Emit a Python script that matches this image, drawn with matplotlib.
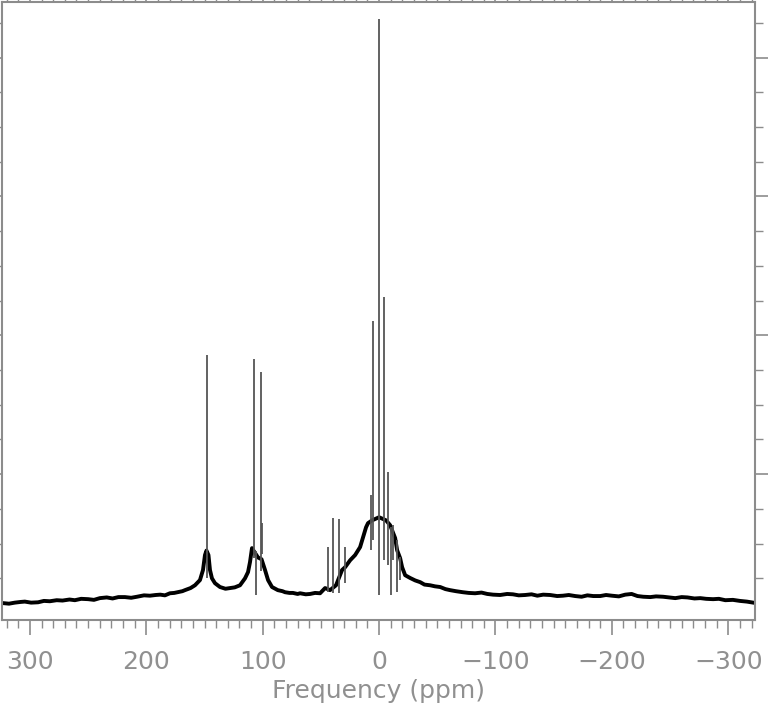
import numpy as np
import matplotlib
matplotlib.use("Agg")
import matplotlib.pyplot as plt
from matplotlib.ticker import MultipleLocator, FixedLocator

# broad part of the spectrum (baseline + wide humps)
base_ppm = [324.2, 318.0, 313.0, 308.0, 304.4, 299.0, 293.0, 288.0, 282.9, 277.0,
            272.0, 266.0, 261.4, 256.0, 250.0, 245.0, 239.9, 234.0, 229.0, 224.0,
            218.4, 213.0, 208.0, 202.0, 196.9, 192.0, 188.0, 184.0, 179.7, 176.0,
            172.0, 169.0, 166.8, 162.0, 158.2, 153.9,
            151.3, 149.6, 148.3, 146.6, 145.3, 143.6, 141.0, 136.7, 132.0, 128.1,
            124.0, 119.5, 115.2, 112.6, 110.9, 109.2, 107.0, 104.0, 101.0, 98.0,
            95.4, 92.0, 87.0, 83.0, 80.8, 77.0, 74.0, 70.0, 67.9, 63.0, 59.3, 55.0, 50.7, 46.4, 42.1,
            37.0, 31.8, 29.2, 24.9, 20.6, 16.3, 13.8, 11.2, 9.5, 6.0,
            0.0, -6.0, -9.5, -13.8, -15.5, -18.1, -19.8, -22.4, -26.7, -31.0,
            -35.3, -39.0, -43.9, -48.0, -52.5, -57.0, -61.0, -66.0, -72.0, -77.0, -82.5, -88.0,
            -93.0, -98.0, -104.0, -110.0, -115.0, -120.0, -125.5, -131.0,
            -136.0, -141.0, -147.0, -153.0, -158.0, -163.0, -168.5, -174.0, -179.0, -184.0,
            -190.0, -195.0, -200.0, -206.0, -211.5, -217.0, -222.0, -227.0, -233.0, -238.0,
            -244.0, -249.0, -254.5, -260.0, -265.0, -271.0, -276.0, -281.0, -287.0, -292.0,
            -297.5, -304.0, -310.0, -316.0, -323.3]
base_int = [0.29, 0.27, 0.30, 0.32, 0.33, 0.30, 0.31, 0.35, 0.34, 0.37,
            0.36, 0.39, 0.37, 0.41, 0.40, 0.38, 0.43, 0.45, 0.42, 0.46,
            0.46, 0.44, 0.47, 0.51, 0.50, 0.52, 0.53, 0.51, 0.57, 0.58,
            0.61, 0.63, 0.66, 0.72, 0.80, 0.95,
            1.24, 1.67, 1.80, 1.67, 1.24, 1.00, 0.86, 0.75, 0.70, 0.72,
            0.74, 0.80, 1.00, 1.18, 1.47, 1.87, 1.75, 1.60, 1.55, 1.24,
            0.95, 0.75, 0.66, 0.63, 0.60, 0.58, 0.58, 0.55, 0.57, 0.54, 0.55, 0.58, 0.57, 0.72, 0.66,
            0.80, 1.24, 1.32, 1.52, 1.67, 1.90, 2.18, 2.47, 2.59, 2.67,
            2.76, 2.67, 2.53, 2.16, 1.81, 1.58, 1.32, 1.09, 1.01, 0.94,
            0.89, 0.82, 0.80, 0.77, 0.75, 0.69, 0.66, 0.63, 0.60, 0.58, 0.57, 0.59,
            0.55, 0.53, 0.52, 0.55, 0.54, 0.51, 0.52, 0.54,
            0.50, 0.53, 0.52, 0.49, 0.50, 0.52, 0.49, 0.47, 0.51, 0.49,
            0.49, 0.52, 0.50, 0.48, 0.53, 0.55, 0.49, 0.47, 0.46, 0.48,
            0.47, 0.45, 0.43, 0.46, 0.45, 0.42, 0.43, 0.41, 0.40, 0.41,
            0.37, 0.38, 0.35, 0.33, 0.29]

# sharp lines: position, top of spike, lowest point of the stroke
peak_ppm = [148.2, 107.5, 105.8, 101.7, 100.6,
            44.1, 39.3, 34.1, 29.2, 7.1, 4.9, 0.3, -4.0, -7.5, -10.1, -12.0, -15.2, -18.1]
peak_top = [7.44, 7.33, 1.80, 6.95, 2.60,
            1.90, 2.74, 2.70, 1.90, 3.39, 8.42, 17.10, 9.11, 4.05, 2.47, 2.53, 2.10, 1.61]
peak_low = [1.00, 1.60, 0.52, 1.20, 1.70,
            0.60, 0.57, 0.57, 0.86, 1.81, 2.10, 0.52, 1.52, 1.38, 0.52, 1.52, 0.60, 0.95]

yticks = list(range(1, 18))
grey = "#8c8c8c"

fig = plt.figure(figsize=(7.68, 7.14), dpi=100)
ax = fig.add_axes([2/768, (714-620)/714, (755-2)/768, (620-2)/714])

ax.plot(base_ppm, base_int, color="black", linewidth=2.8, solid_joinstyle="round")
ax.vlines(peak_ppm, peak_low, peak_top, colors="#555555", linewidth=1.3)

ax.set_xlim(324, -323)
ax.set_ylim(-0.2, 17.6)

ax.xaxis.set_major_locator(MultipleLocator(100))
ax.xaxis.set_minor_locator(MultipleLocator(10))
ax.yaxis.set_major_locator(FixedLocator([t for t in yticks if t % 4 == 0]))
ax.yaxis.set_minor_locator(FixedLocator([t for t in yticks if t % 4 != 0]))

ax.tick_params(axis="x", which="both", direction="out", top=True, bottom=True,
               colors=grey, labelsize=18, pad=10.5)
ax.tick_params(axis="y", which="both", direction="out", left=True, right=True,
               labelleft=False, labelright=False, colors=grey)
ax.tick_params(which="major", length=11, width=1.2)
ax.tick_params(which="minor", length=6, width=1.0)
ax.tick_params(axis="x", labelcolor="#909090")

for s in ax.spines.values():
    s.set_color(grey)
    s.set_linewidth(1.5)

ax.set_xlabel("Frequency (ppm)", fontsize=18, color="#909090", labelpad=4)

fig.savefig("out.png", dpi=100)
